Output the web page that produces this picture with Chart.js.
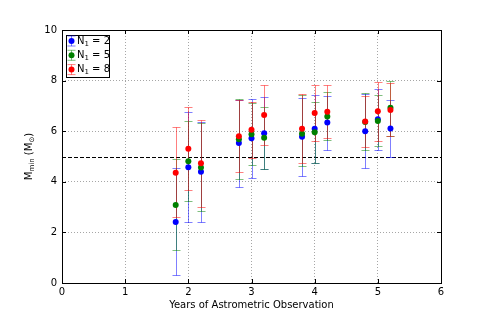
<!DOCTYPE html>
<html>
<head>
<meta charset="utf-8">
<script src="https://cdn.jsdelivr.net/npm/chart.js@4.4.0/dist/chart.umd.min.js"></script>
<style>
  html, body { margin: 0; padding: 0; background: #fff; }
  #wrap { width: 491px; height: 315px; }
</style>
</head>
<body>
<div id="wrap"><canvas id="c" width="491" height="315"></canvas></div>
<script>
// years of astrometric observation (x positions, offset around each integer)
const years = [1.8, 2.0, 2.2, 2.8, 3.0, 3.2, 3.8, 4.0, 4.2, 4.8, 5.0, 5.2];

// N1 = 2
const n2Val = [2.41, 4.58, 4.40, 5.53, 5.72, 5.92, 5.78, 6.10, 6.34, 6.00, 6.47, 6.11];
const n2Lo  = [0.30, 2.42, 2.40, 3.80, 4.14, 4.49, 4.24, 4.76, 5.26, 4.53, 5.24, 4.99];
const n2Hi  = [4.53, 6.75, 6.38, 7.25, 7.27, 7.34, 7.30, 7.43, 7.40, 7.46, 7.68, 7.23];

// N1 = 5
const n5Val = [3.08, 4.81, 4.57, 5.68, 5.88, 5.74, 5.90, 5.96, 6.58, 6.36, 6.40, 6.93];
const n5Lo  = [1.29, 3.23, 2.85, 4.11, 4.65, 4.49, 4.62, 4.76, 5.64, 5.24, 5.40, 5.81];
const n5Hi  = [4.89, 6.40, 6.31, 7.26, 7.13, 6.97, 7.42, 7.17, 7.54, 7.52, 7.42, 8.00];

// N1 = 8
const n8Val = [4.36, 5.31, 4.73, 5.80, 6.06, 6.64, 6.10, 6.72, 6.77, 6.38, 6.79, 6.84];
const n8Lo  = [2.60, 3.66, 2.99, 4.37, 4.95, 5.45, 4.76, 5.61, 5.74, 5.36, 5.60, 5.81];
const n8Hi  = [6.15, 6.94, 6.44, 7.23, 7.15, 7.83, 7.46, 7.83, 7.83, 7.39, 7.93, 7.89];

const seriesLabels = ['2', '5', '8'];
const threshold = 5;

const FONT = 'DejaVu Sans';

function pts(vals, lo, hi) {
    return years.map((x, i) => ({ x, y: vals[i], lo: lo[i], hi: hi[i] }));
}

const series = [
    { n: seriesLabels[0], data: pts(n2Val, n2Lo, n2Hi), color: '#0000ff', bar: 'rgba(0,0,255,0.5)', order: 3 },
    { n: seriesLabels[1], data: pts(n5Val, n5Lo, n5Hi), color: '#008000', bar: 'rgba(0,128,0,0.5)', order: 2 },
    { n: seriesLabels[2], data: pts(n8Val, n8Lo, n8Hi), color: '#ff0000', bar: 'rgba(255,0,0,0.5)', order: 1 }
];

// error bars, threshold line, frame, inward ticks, titles and legend
const extras = {
    id: 'extras',
    beforeDatasetsDraw(chart) {
        const { ctx, chartArea: a, scales: { x, y } } = chart;
        ctx.save();
        // dashed threshold line
        ctx.strokeStyle = '#000';
        ctx.lineWidth = 1;
        ctx.setLineDash([4, 2]);
        const ty = Math.round(y.getPixelForValue(threshold)) + 0.5;
        ctx.beginPath(); ctx.moveTo(a.left, ty); ctx.lineTo(a.right, ty); ctx.stroke();
        ctx.setLineDash([]);
        // error bars
        series.forEach(s => {
            ctx.strokeStyle = s.bar;
            s.data.forEach(p => {
                const px = Math.round(x.getPixelForValue(p.x)) + 0.5;
                const yl = Math.round(y.getPixelForValue(p.lo)) + 0.5;
                const yh = Math.round(y.getPixelForValue(p.hi)) + 0.5;
                ctx.beginPath();
                ctx.moveTo(px, yl); ctx.lineTo(px, yh);
                ctx.moveTo(px - 4, yl); ctx.lineTo(px + 4, yl);
                ctx.moveTo(px - 4, yh); ctx.lineTo(px + 4, yh);
                ctx.stroke();
            });
        });
        ctx.restore();
    },
    afterDraw(chart) {
        const { ctx, chartArea: a, scales: { x, y } } = chart;
        ctx.save();
        // frame
        ctx.strokeStyle = '#000';
        ctx.lineWidth = 1;
        ctx.strokeRect(a.left + 0.5, a.top + 0.5, a.right - a.left, a.bottom - a.top);
        // inward ticks on all sides
        ctx.beginPath();
        x.ticks.forEach(t => {
            const px = Math.round(x.getPixelForValue(t.value)) + 0.5;
            ctx.moveTo(px, a.bottom); ctx.lineTo(px, a.bottom - 4);
            ctx.moveTo(px, a.top); ctx.lineTo(px, a.top + 4);
        });
        y.ticks.forEach(t => {
            const py = Math.round(y.getPixelForValue(t.value)) + 0.5;
            ctx.moveTo(a.left, py); ctx.lineTo(a.left + 4, py);
            ctx.moveTo(a.right, py); ctx.lineTo(a.right - 4, py);
        });
        ctx.stroke();

        ctx.fillStyle = '#000';
        ctx.textBaseline = 'middle';
        // x title
        ctx.font = `10px "${FONT}"`;
        ctx.textAlign = 'center';
        ctx.fillText('Years of Astrometric Observation', (a.left + a.right) / 2, 305);

        // y title with subscripts
        ctx.translate(29, (a.top + a.bottom) / 2);
        ctx.rotate(-Math.PI / 2);
        const parts = [
            ['M', 10, 0], ['min', 7, 3], [' (M', 10, 0], ['\u2299', 7, 3], [')', 10, 0]
        ];
        let w = 0;
        parts.forEach(([t, s]) => { ctx.font = `${s}px "${FONT}"`; w += ctx.measureText(t).width; });
        let cx = -w / 2;
        ctx.textAlign = 'left';
        parts.forEach(([t, s, dy]) => {
            ctx.font = `${s}px "${FONT}"`;
            ctx.fillText(t, cx, dy);
            cx += ctx.measureText(t).width;
        });
        ctx.restore();

        // legend
        ctx.save();
        const lx = a.left + 4, ly = a.top + 5, lw = 43, lh = 42;
        ctx.fillStyle = '#fff';
        ctx.fillRect(lx + 0.5, ly + 0.5, lw, lh);
        ctx.strokeStyle = '#000';
        ctx.strokeRect(lx + 0.5, ly + 0.5, lw, lh);
        series.forEach((s, i) => {
            const ey = ly + 6 + i * 14.3;
            const mx = lx + 5.5;
            ctx.strokeStyle = s.bar;
            ctx.beginPath();
            ctx.moveTo(mx, ey - 5); ctx.lineTo(mx, ey + 5);
            ctx.moveTo(mx - 4, ey - 5); ctx.lineTo(mx + 4, ey - 5);
            ctx.moveTo(mx - 4, ey + 5); ctx.lineTo(mx + 4, ey + 5);
            ctx.stroke();
            ctx.fillStyle = s.color;
            ctx.beginPath(); ctx.arc(mx, ey, 3, 0, Math.PI * 2); ctx.fill();
            ctx.fillStyle = '#000';
            ctx.textAlign = 'left';
            ctx.textBaseline = 'middle';
            let tx = lx + 11;
            ctx.font = `10px "${FONT}"`;
            ctx.fillText('N', tx, ey);
            tx += ctx.measureText('N').width;
            ctx.font = `7px "${FONT}"`;
            ctx.fillText('1', tx, ey + 3);
            tx += ctx.measureText('1').width;
            ctx.font = `10px "${FONT}"`;
            ctx.fillText(' = ' + s.n, tx, ey);
        });
        ctx.restore();
    }
};

new Chart(document.getElementById('c'), {
    type: 'scatter',
    data: {
        datasets: series.map(s => ({
            label: 'N1 = ' + s.n,
            data: s.data,
            order: s.order,
            backgroundColor: s.color,
            borderColor: s.color,
            borderWidth: 0,
            pointRadius: 3,
            pointHoverRadius: 3
        }))
    },
    options: {
        responsive: false,
        animation: false,
        layout: { padding: { top: 30, right: 50, left: 0, bottom: 0 } },
        plugins: { legend: { display: false }, tooltip: { enabled: false } },
        scales: {
            x: {
                type: 'linear', min: 0, max: 6,
                ticks: { stepSize: 1, color: '#000', font: { family: FONT, size: 10 }, padding: 3, maxRotation: 0 },
                grid: { color: 'rgba(0,0,0,0.35)', drawTicks: false, tickBorderDash: [1, 2] , borderDash: [1, 2] },
                border: { display: false, dash: [1, 2] },
                afterFit(sc) { sc.height = 32; }
            },
            y: {
                type: 'linear', min: 0, max: 10,
                ticks: { stepSize: 2, color: '#000', font: { family: FONT, size: 10 }, padding: 5 },
                grid: { color: 'rgba(0,0,0,0.35)', drawTicks: false },
                border: { display: false, dash: [1, 2] },
                afterFit(sc) { sc.width = 62; }
            }
        }
    },
    plugins: [extras]
});
</script>
</body>
</html>
